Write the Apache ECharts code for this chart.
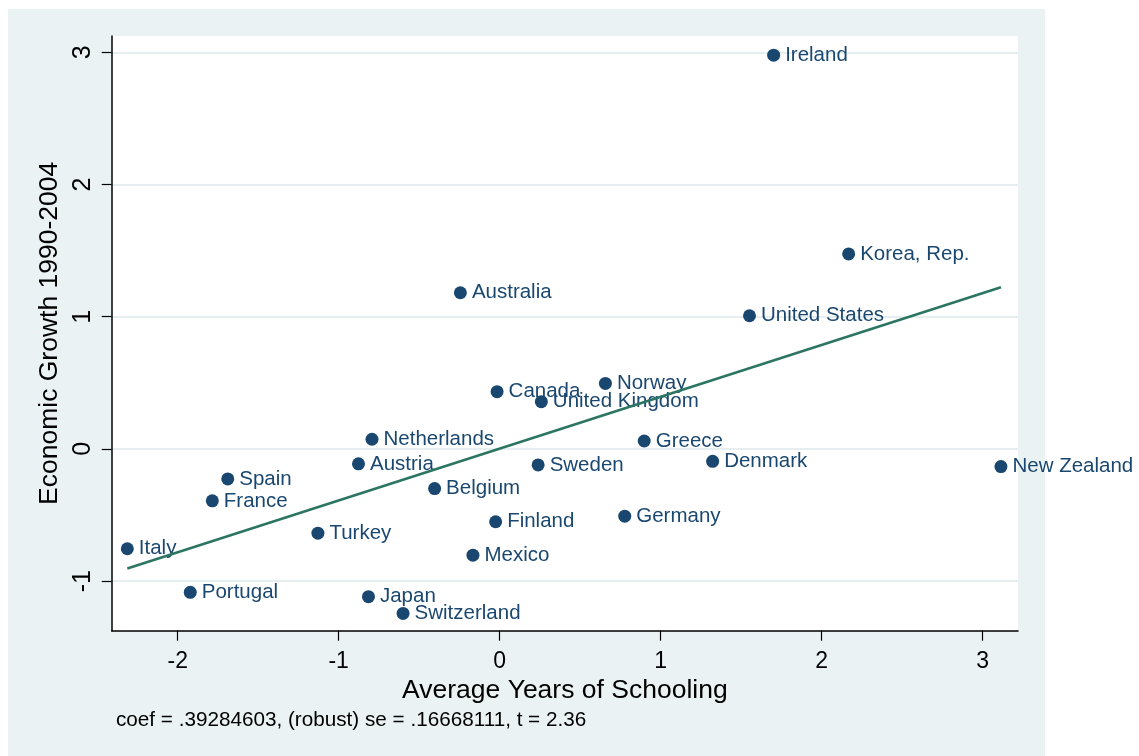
<!DOCTYPE html>
<html>
<head>
<meta charset="utf-8">
<script src="https://cdn.jsdelivr.net/npm/echarts@6/dist/echarts.min.js"></script>
<style>
html,body{margin:0;padding:0;background:#ffffff;}
#bg{position:absolute;left:8px;top:9px;width:1037px;height:747px;background:#eaf2f3;}
#chart{position:absolute;left:0;top:0;width:1139px;height:756px;}
</style>
</head>
<body>
<div id="bg"></div>
<div id="chart"></div>
<script>
var countries = ["Ireland","Korea, Rep.","Australia","United States","Canada","Norway","United Kingdom","Netherlands","Greece","Austria","Sweden","Denmark","New Zealand","Spain","France","Belgium","Finland","Germany","Turkey","Mexico","Italy","Portugal","Japan","Switzerland"];
var schooling = [1.702, 2.168, -0.244, 1.552, -0.016, 0.657, 0.259, -0.793, 0.898, -0.877, 0.239, 1.323, 3.114, -1.689, -1.785, -0.404, -0.025, 0.777, -1.129, -0.166, -2.313, -1.922, -0.815, -0.600];
var growth = [2.978, 1.475, 1.181, 1.007, 0.433, 0.495, 0.357, 0.073, 0.060, -0.113, -0.121, -0.094, -0.134, -0.227, -0.393, -0.300, -0.551, -0.509, -0.637, -0.804, -0.755, -1.085, -1.118, -1.244];
var fitX = [-2.313, 3.114];
var fitY = [-0.905, 1.223];
var xTicks = [-2, -1, 0, 1, 2, 3];
var yTicks = [-1, 0, 1, 2, 3];
var note = "coef = .39284603, (robust) se = .16668111, t = 2.36";

var pts = countries.map(function (c, i) { return { name: c, value: [schooling[i], growth[i]] }; });
var fit = fitX.map(function (x, i) { return [x, fitY[i]]; });

var FONT = "Liberation Sans, Arial, sans-serif";
var chart = echarts.init(document.getElementById('chart'), null, { renderer: 'canvas' });
chart.setOption({
  backgroundColor: 'transparent',
  animation: false,
  textStyle: { fontFamily: FONT },
  title: {
    text: note, left: 116, top: 710, padding: 0,
    textStyle: { fontSize: 20.7, fontWeight: 'normal', color: '#000', fontFamily: FONT }
  },
  grid: {
    left: 111.7, top: 36, right: 121, bottom: 125.3,
    show: true, backgroundColor: '#ffffff', borderWidth: 0
  },
  xAxis: {
    type: 'value', min: -2.41, max: 3.22,
    name: 'Average Years of Schooling', nameLocation: 'middle', nameGap: 44,
    nameTextStyle: { fontSize: 26.5, color: '#000', fontFamily: FONT },
    axisLine: { show: true, onZero: false, lineStyle: { color: '#000', width: 1.5 } },
    axisTick: { show: true, length: 10, customValues: xTicks, lineStyle: { color: '#000', width: 1.2 } },
    axisLabel: { customValues: xTicks, fontSize: 23, color: '#000', margin: 19, fontFamily: FONT },
    splitLine: { show: false }
  },
  yAxis: {
    type: 'value', min: -1.375, max: 3.123,
    name: 'Economic Growth 1990-2004', nameLocation: 'middle', nameGap: 41, nameRotate: 90,
    nameTextStyle: { fontSize: 26.5, color: '#000', fontFamily: FONT },
    axisLine: { show: true, onZero: false, lineStyle: { color: '#000', width: 1.5 } },
    axisTick: { show: true, length: 10, customValues: yTicks, lineStyle: { color: '#000', width: 1.2 } },
    axisLabel: { customValues: yTicks, rotate: 90, fontSize: 25, color: '#000', margin: 16, fontFamily: FONT },
    splitLine: { show: true, lineStyle: { color: '#e6eef0', width: 2 } }
  },
  series: [
    {
      type: 'scatter', data: pts, symbol: 'circle', symbolSize: 13, z: 2,
      itemStyle: { color: '#1a476f', opacity: 1 },
      label: {
        show: true, position: 'right', distance: 5,
        formatter: function (p) { return p.name; },
        fontSize: 20.5, color: '#1a476f', fontFamily: FONT
      }
    },
    {
      type: 'line', data: fit, symbol: 'none', z: 5,
      lineStyle: { color: '#2b7562', width: 2.5 }
    }
  ]
});
</script>
</body>
</html>
